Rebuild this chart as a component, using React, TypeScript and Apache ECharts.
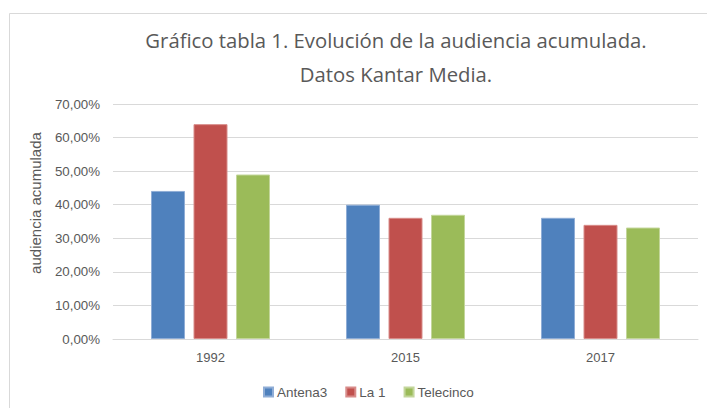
import React, { useEffect, useRef } from "react";
import * as echarts from "echarts";

const categories = ["1992", "2015", "2017"];
const antena3 = [0.441, 0.4, 0.361];
const la1 = [0.64, 0.361, 0.34];
const telecinco = [0.49, 0.37, 0.332];
const seriesNames = ["Antena3", "La 1", "Telecinco"];
const titleLines = ["Gráfico tabla 1. Evolución de la audiencia acumulada.", "Datos Kantar Media."];
const yAxisName = "audiencia acumulada";

export default function App() {
  const ref = useRef<HTMLDivElement>(null);
  useEffect(() => {
    if (!ref.current) return;
    const chart = echarts.init(ref.current, undefined, { renderer: "svg" });
    const font = "'Liberation Sans', Arial, sans-serif";
    const titleFont = "'Open Sans', 'Liberation Sans', sans-serif";
    const colors = ["#4F81BD", "#C0504D", "#9BBB59"];
    const borders = ["#8FADD6", "#D88C8A", "#C3D69B"];
    const data = [antena3, la1, telecinco];
    chart.setOption({
      animation: false,
      backgroundColor: "#ffffff",
      textStyle: { fontFamily: font },
      graphic: [
        {
          type: "rect",
          shape: { x: 9.5, y: 13.5, width: 720, height: 420 },
          style: { fill: "none", stroke: "#d9d9d9", lineWidth: 1 },
          silent: true,
        },
        {
          type: "text",
          x: 396,
          y: 40,
          style: {
            text: titleLines[0],
            fill: "#595959",
            font: `20.3px ${titleFont}`,
            textAlign: "center",
            textVerticalAlign: "middle",
          },
        },
        {
          type: "text",
          x: 396,
          y: 74,
          style: {
            text: titleLines[1],
            fill: "#595959",
            font: `20.3px ${titleFont}`,
            textAlign: "center",
            textVerticalAlign: "middle",
          },
        },
        {
          type: "text",
          x: 35,
          y: 203,
          rotation: Math.PI / 2,
          style: {
            text: yAxisName,
            fill: "#595959",
            font: `15px ${font}`,
            textAlign: "center",
            textVerticalAlign: "middle",
          },
        },
      ],
      grid: { left: 113, right: 9, top: 104, bottom: 69 },
      legend: {
        top: 380,
        left: 258,
        itemWidth: 9,
        itemHeight: 9,
        itemGap: 18,
        icon: "rect",
        textStyle: { color: "#595959", fontSize: 13.5, fontFamily: font, padding: [0, 0, 0, -1] },
        data: seriesNames,
      },
      xAxis: {
        type: "category",
        data: categories,
        axisLine: { lineStyle: { color: "#d9d9d9" } },
        axisTick: { show: false },
        axisLabel: { color: "#595959", fontSize: 13, margin: 12 },
      },
      yAxis: {
        type: "value",
        min: 0,
        max: 0.7,
        interval: 0.1,
        axisLine: { show: false },
        axisTick: { show: false },
        splitLine: { lineStyle: { color: "#d9d9d9" } },
        axisLabel: {
          color: "#595959",
          fontSize: 13.3,
          margin: 13,
          formatter: (v: number) => (v * 100).toFixed(2).replace(".", ",") + "%",
        },
      },
      series: seriesNames.map((name, i) => ({
        name,
        type: "bar",
        data: data[i],
        barWidth: 34,
        barGap: "25%",
        itemStyle: { color: colors[i], borderColor: borders[i], borderWidth: 1 },
      })),
    });
    return () => chart.dispose();
  }, []);
  return (
    <div
      ref={ref}
      style={{ position: "absolute", left: 0, top: 0, width: 707, height: 408 }}
    />
  );
}
